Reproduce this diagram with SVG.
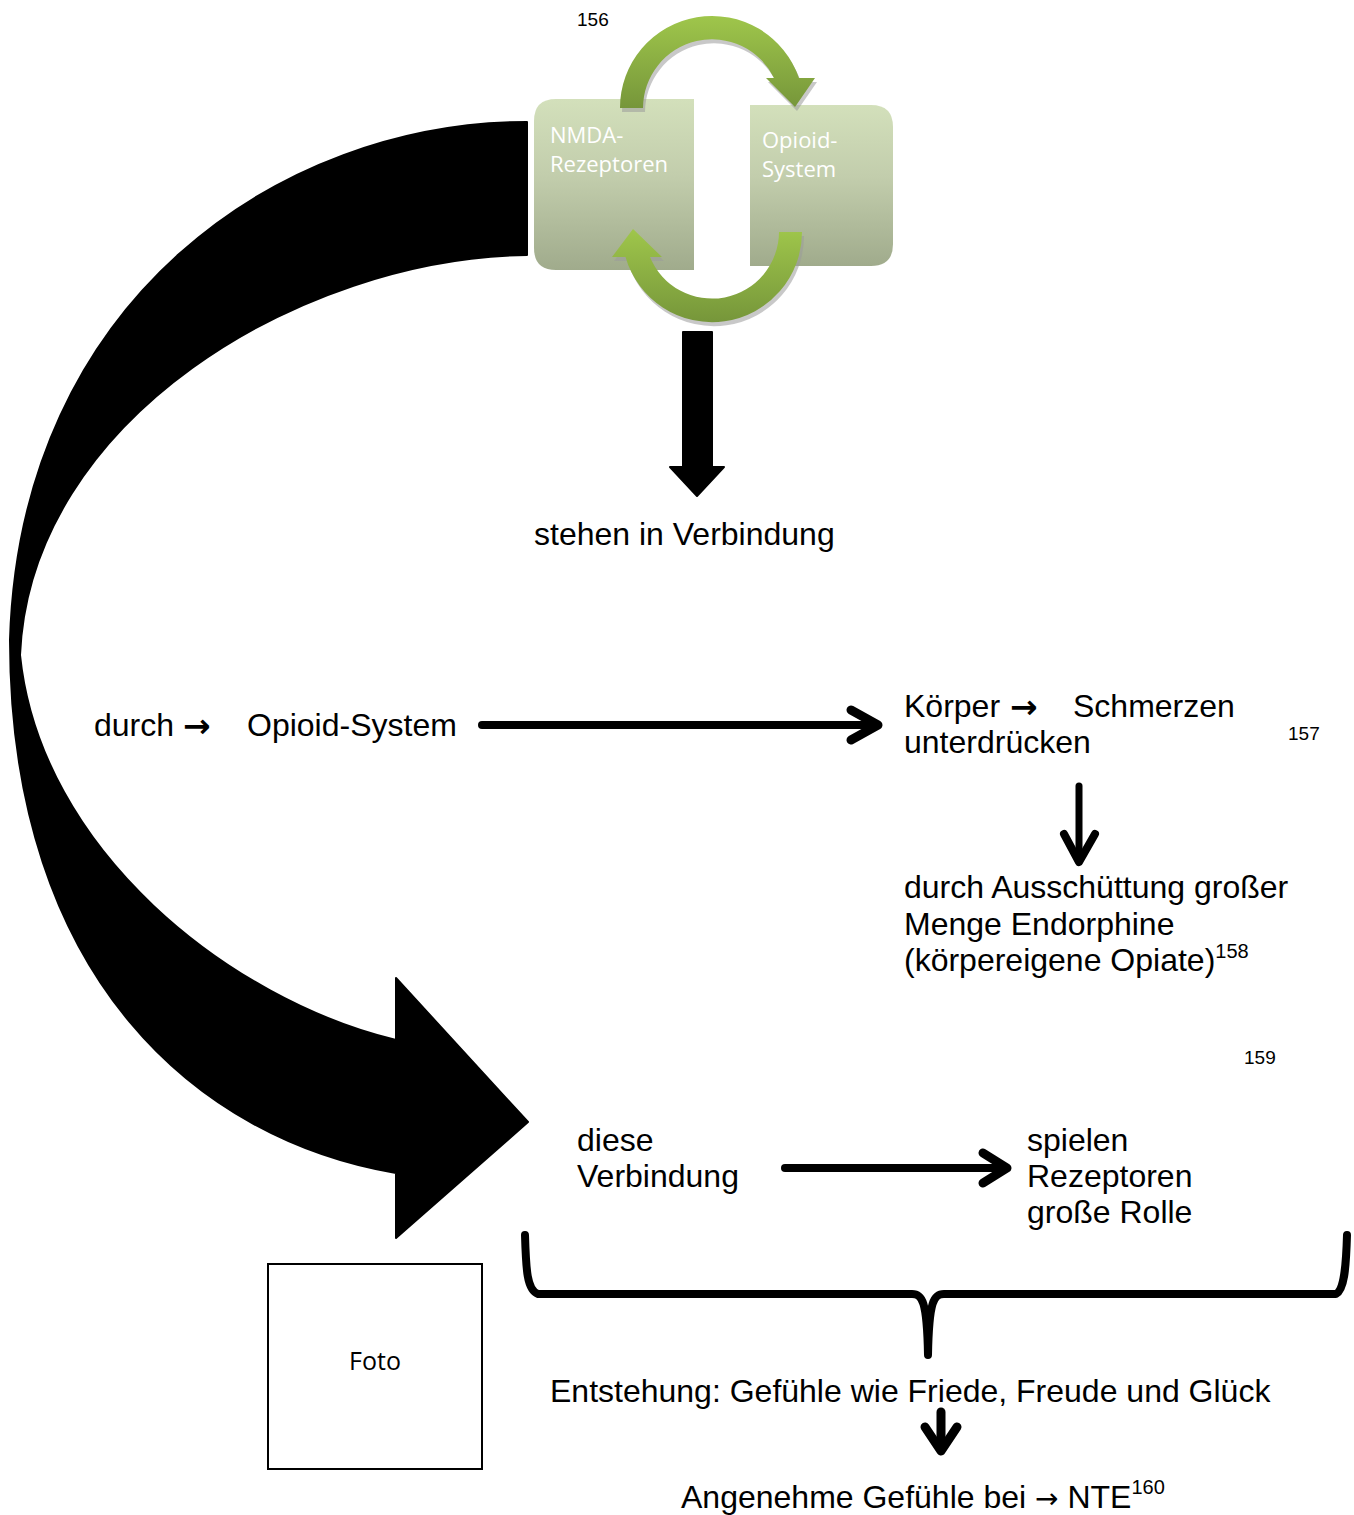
<svg xmlns="http://www.w3.org/2000/svg" width="1354" height="1515" viewBox="0 0 1354 1515">
<style>
.t{font-family:"Liberation Sans",Arial,sans-serif;font-size:32px;fill:#000}
.ar{font-family:"DejaVu Sans",sans-serif;font-size:33px;font-weight:bold}
.fn{font-family:"Liberation Sans",Arial,sans-serif;font-size:19px;fill:#000}
.bx{font-family:"Open Sans","DejaVu Sans",sans-serif;font-size:22px;fill:#fff}
.ln{fill:none;stroke:#000;stroke-linecap:round;stroke-linejoin:round}
</style>
<defs>
<linearGradient id="boxg" x1="0" y1="0" x2="0" y2="1">
<stop offset="0" stop-color="#d3e0bb"/>
<stop offset="0.45" stop-color="#c2cdac"/>
<stop offset="1" stop-color="#a0ab8c"/>
</linearGradient>
<linearGradient id="grn" x1="0" y1="0" x2="0" y2="1">
<stop offset="0" stop-color="#9fc64b"/>
<stop offset="1" stop-color="#76963a"/>
</linearGradient>
</defs>

<g id="curved-arrow">
<path d="M527,122 C280,122 20,300 10,640 C10,980 200,1140 396,1173 L396,1238 L528,1122 L396,978 L396,1040 C230,1000 40,850 20,655 C30,420 300,258 527,255 Z" fill="#000" stroke="#000" stroke-width="2" stroke-linejoin="round"/>
</g>

<g id="node-nmda">
<path d="M556,99 L694,99 L694,270 L556,270 Q534,270 534,248 L534,121 Q534,99 556,99 Z" fill="url(#boxg)"/>
<text class="bx" x="550" y="143">NMDA-</text>
<text class="bx" x="550" y="172">Rezeptoren</text>
</g>

<g id="node-opioid">
<path d="M750,105 L871,105 Q893,105 893,127 L893,244 Q893,266 871,266 L750,266 Z" fill="url(#boxg)"/>
<text class="bx" x="762" y="148">Opioid-</text>
<text class="bx" x="762" y="177">System</text>
</g>

<g id="cycle-arrows">
<path d="M620,108 A92,92 0 0 1 799,78 L815,78 L795,107 L766,78 L774,78 A69,69 0 0 0 643,108 Z" fill="#9a9a9a" opacity="0.55" transform="translate(2,4)"/>
<path d="M620,108 A92,92 0 0 1 799,78 L815,78 L795,107 L766,78 L774,78 A69,69 0 0 0 643,108 Z" fill="url(#grn)"/>
<path d="M802,232 A90,90 0 0 1 625.5,257 L612,257 L633,229 L662,257 L650,257 A67,67 0 0 0 779,232 Z" fill="#9a9a9a" opacity="0.55" transform="translate(2,4)"/>
<path d="M802,232 A90,90 0 0 1 625.5,257 L612,257 L633,229 L662,257 L650,257 A67,67 0 0 0 779,232 Z" fill="url(#grn)"/>
</g>

<g id="connectors">
<path d="M683,332 L712,332 L712,467 L724,467 L697,496 L670,467 L683,467 Z" fill="#000" stroke="#000" stroke-width="2" stroke-linejoin="round"/>
<path class="ln" d="M482,725 L874,725" stroke-width="8"/>
<path class="ln" d="M851,710 L878,725 L851,740" stroke-width="9"/>
<path class="ln" d="M1079,786 L1079,858" stroke-width="7"/>
<path class="ln" d="M1064,834 L1079,862 L1095,834" stroke-width="8"/>
<path class="ln" d="M785,1168 L1002,1168" stroke-width="8"/>
<path class="ln" d="M983,1153 L1007,1168 L983,1183" stroke-width="9"/>
<path class="ln" d="M525,1235 C526,1270 527,1290 538,1294 L912,1294 C922,1294 927,1300 928,1355 C929,1300 934,1294 944,1294 L1336,1294 C1344,1290 1346,1270 1347,1235" stroke-width="8"/>
<path class="ln" d="M941,1412 L941,1446" stroke-width="9"/>
<path class="ln" d="M925,1427 L941,1451 L957,1427" stroke-width="9"/>
</g>

<g id="footnote-156"><text class="fn" x="577" y="26">156</text></g>

<g id="node-stehen"><text class="t" x="534" y="545">stehen in Verbindung</text></g>

<g id="node-durch">
<text class="t" x="94" y="736">durch</text>
<text class="t ar" x="183" y="737">→</text>
<text class="t" x="247" y="736">Opioid-System</text>
</g>

<g id="node-koerper">
<text class="t" x="904" y="717">Körper</text>
<text class="t ar" x="1010" y="718">→</text>
<text class="t" x="1073" y="717">Schmerzen</text>
<text class="t" x="904" y="753">unterdrücken</text>
<text class="fn" x="1288" y="740">157</text>
</g>

<g id="node-ausschuettung">
<text class="t" x="904" y="898">durch Ausschüttung großer</text>
<text class="t" x="904" y="935">Menge Endorphine</text>
<text class="t" x="904" y="971">(körpereigene Opiate)<tspan font-size="20" dy="-13">158</tspan></text>
</g>

<g id="footnote-159"><text class="fn" x="1244" y="1064">159</text></g>

<g id="node-diese">
<text class="t" x="577" y="1151">diese</text>
<text class="t" x="577" y="1187">Verbindung</text>
</g>

<g id="node-spielen">
<text class="t" x="1027" y="1151">spielen</text>
<text class="t" x="1027" y="1187">Rezeptoren</text>
<text class="t" x="1027" y="1223">große Rolle</text>
</g>

<g id="node-foto">
<rect x="268" y="1264" width="214" height="205" fill="#fff" stroke="#000" stroke-width="2"/>
<text x="375" y="1370" text-anchor="middle" font-family="Open Sans, DejaVu Sans, sans-serif" font-size="25" fill="#000">Foto</text>
</g>

<g id="node-entstehung"><text class="t" x="550" y="1402">Entstehung: Gefühle wie Friede, Freude und Glück</text></g>

<g id="node-angenehm"><text class="t" x="681" y="1508">Angenehme Gefühle bei <tspan font-family="DejaVu Sans, sans-serif" font-size="28">→</tspan> NTE<tspan font-size="20" dy="-14">160</tspan></text></g>
</svg>
